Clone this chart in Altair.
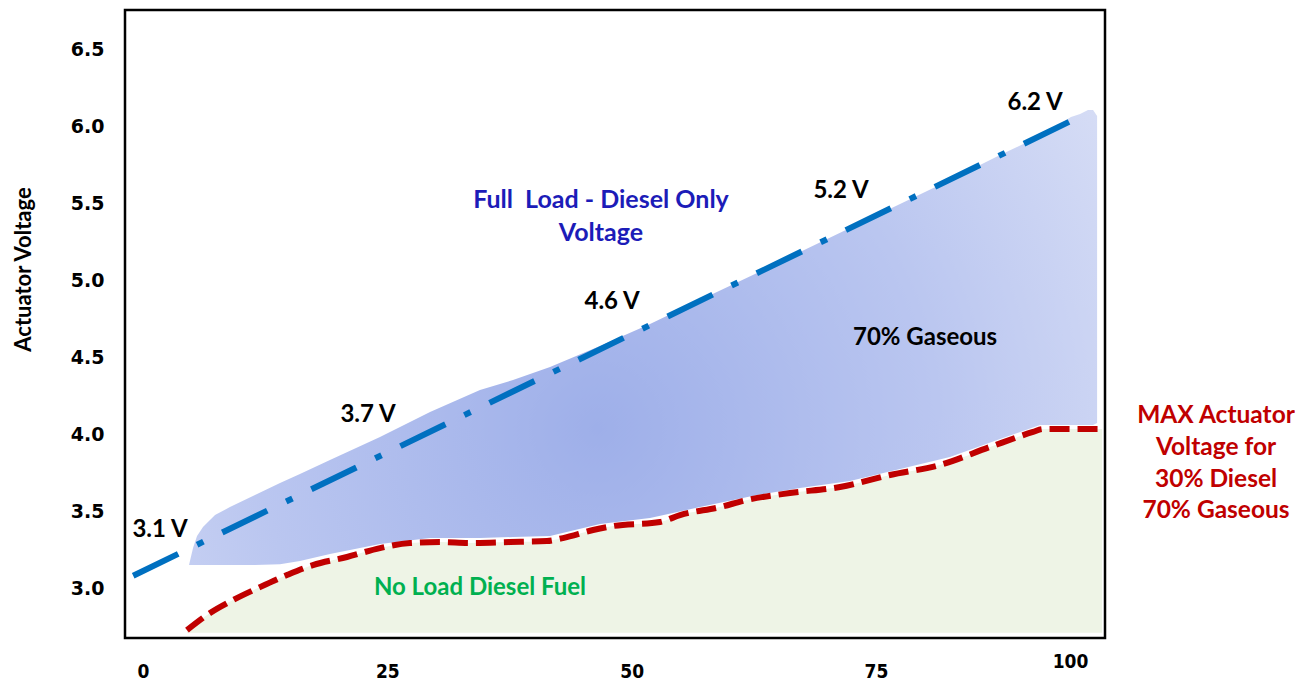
import altair as alt
import pandas as pd

# ---- data (x = load %, y = actuator voltage) ----
band_x = [4.71, 5.12, 5.53, 6.14, 7.37, 8.90, 11.46, 14.02, 16.06, 19.13, 24.25, 29.37,
          34.48, 37.86, 41.65, 46.76, 51.88, 56.99, 62.83, 67.23, 72.34, 77.46, 82.57,
          87.69, 91.78, 94.95, 95.88, 96.69, 97.21, 97.62]
band_top = [3.154, 3.264, 3.342, 3.400, 3.478, 3.530, 3.608, 3.686, 3.744, 3.835, 3.984,
            4.146, 4.289, 4.354, 4.438, 4.574, 4.717, 4.873, 5.048, 5.184, 5.339, 5.495,
            5.651, 5.813, 5.936, 6.059, 6.079, 6.105, 6.105, 6.066]
band_bottom = [3.154] * 7 + [3.160, 3.180, 3.225, 3.290, 3.329, 3.329, 3.336, 3.342, 3.420,
                             3.459, 3.530, 3.608, 3.653, 3.699, 3.777, 3.854, 3.971] + [4.062] * 5 + [4.075]

noload_x = [4.50, 6.86, 9.21, 11.97, 14.73, 17.39, 20.87, 24.25, 27.32, 30.39, 33.46, 37.55,
            41.34, 42.97, 46.05, 48.09, 52.90, 54.95, 59.04, 61.80, 66.20, 71.32, 76.44,
            81.55, 86.67, 91.07, 92.09, 98.13]
noload_v = [2.732, 2.843, 2.927, 3.011, 3.089, 3.154, 3.206, 3.264, 3.297, 3.303, 3.297, 3.303,
            3.310, 3.329, 3.381, 3.407, 3.433, 3.478, 3.530, 3.576, 3.621, 3.660, 3.738,
            3.803, 3.920, 4.017, 4.036, 4.036]
noload_floor = 2.715

full_x = [-1.0, 94.95]
full_v = [3.085, 6.034]

volt_labels = ["3.1 V", "3.7 V", "4.6 V", "5.2 V", "6.2 V"]
volt_x = [1.74, 23.02, 47.99, 71.42, 91.27]
volt_y = [3.381, 4.127, 4.860, 5.579, 6.150]

full_text = ["Full\u00a0 Load - Diesel Only", "Voltage"]
full_text_x = [46.86, 46.86]
full_text_y = [5.521, 5.307]

gas_text = ["70% Gaseous"]
gas_x = [80.02]
gas_y = [4.626]

green_text = ["No Load Diesel Fuel"]
green_x = [34.48]
green_y = [3.005]

max_text = ["MAX Actuator", "Voltage for", "30% Diesel", "70% Gaseous"]
max_x = [109.79] * 4
max_y = [4.120, 3.913, 3.705, 3.504]

x_ticks = [0, 25, 50, 75, 94.85]
y_ticks = [3.0, 3.5, 4.0, 4.5, 5.0, 5.5, 6.0, 6.5]

# ---- tables ----
band_df = pd.DataFrame({"x": band_x, "top": band_top, "bottom": band_bottom})
noload_df = pd.DataFrame({"x": noload_x, "v": noload_v, "floor": [noload_floor] * len(noload_x)})
full_df = pd.DataFrame({"x": full_x, "v": full_v})

xscale = alt.Scale(domain=[-1.84, 98.43], nice=False, zero=False)
yscale = alt.Scale(domain=[2.681, 6.753], nice=False, zero=False)

FONT = "Lato"

x_enc = alt.X(
    "x:Q", scale=xscale,
    axis=alt.Axis(
        values=x_ticks, title=None, ticks=False, domain=False, grid=False,
        labelExpr="datum.value > 90 ? '100' : format(datum.value, 'd')",
        labelFont="DejaVu Sans Condensed", labelFontSize=19, labelFontWeight="bold",
        labelColor="black",
        labelPadding={"condition": {"test": "datum.value > 90", "value": 14}, "value": 24},
    ),
)

green = alt.Chart(noload_df).mark_area(color="#eef4e6", interpolate="monotone").encode(
    x=x_enc,
    y=alt.Y(
        "v:Q", scale=yscale,
        axis=alt.Axis(
            values=y_ticks, format=".1f", ticks=False, domain=False, grid=False,
            labelFont="DejaVu Sans", labelFontSize=19, labelFontWeight="bold",
            labelColor="black", labelPadding=21,
            title="Actuator Voltage", titleFont=FONT, titleFontSize=22,
            titleFontWeight="bold", titleColor="black", titleAngle=270,
            titleX=-102, titleY=259, titleAlign="center", titleBaseline="middle",
        ),
    ),
    y2="floor:Q",
)

band = alt.Chart(band_df).mark_area(
    fill=alt.RadialGradient(
        gradient="radial",
        stops=[
            alt.GradientStop(color="#9eafe9", offset=0),
            alt.GradientStop(color="#bac6f0", offset=0.5),
            alt.GradientStop(color="#dfe4f7", offset=1),
        ],
        x1=0.45, y1=0.6, r1=0, x2=0.45, y2=0.6, r2=0.75,
    ),
    fillOpacity=1,
).encode(x="x:Q", y="top:Q", y2="bottom:Q")

full_line = alt.Chart(full_df).mark_line(
    color="#0070c0", strokeWidth=6, strokeDash=[50, 21, 7, 21], strokeCap="butt"
).encode(x="x:Q", y="v:Q")

noload_line = alt.Chart(noload_df).mark_line(
    color="#c00000", strokeWidth=6, strokeDash=[20, 8], strokeCap="butt",
    interpolate="monotone",
).encode(x="x:Q", y="v:Q")


def text_layer(xs, ys, texts, color, size):
    df = pd.DataFrame({"x": xs, "y": ys, "t": texts})
    return alt.Chart(df).mark_text(
        font=FONT, fontWeight="bold", fontSize=size, color=color,
        align="center", baseline="middle",
    ).encode(x="x:Q", y="y:Q", text="t:N")


texts = [
    text_layer(volt_x, volt_y, volt_labels, "black", 24),
    text_layer(full_text_x, full_text_y, full_text, "#1c1cb8", 25),
    text_layer(gas_x, gas_y, gas_text, "black", 24),
    text_layer(green_x, green_y, green_text, "#00b050", 24),
    text_layer(max_x, max_y, max_text, "#c00000", 24.5),
]

chart = alt.layer(green, band, full_line, noload_line, *texts).properties(
    width=980, height=628,
    autosize=alt.AutoSizeParams(type="none"),
    padding={"left": 117, "top": 2, "right": 190, "bottom": 47},
).configure_view(stroke="black", strokeWidth=2.5)

chart.save("out.html", embed_options={"renderer": "svg", "actions": False})
